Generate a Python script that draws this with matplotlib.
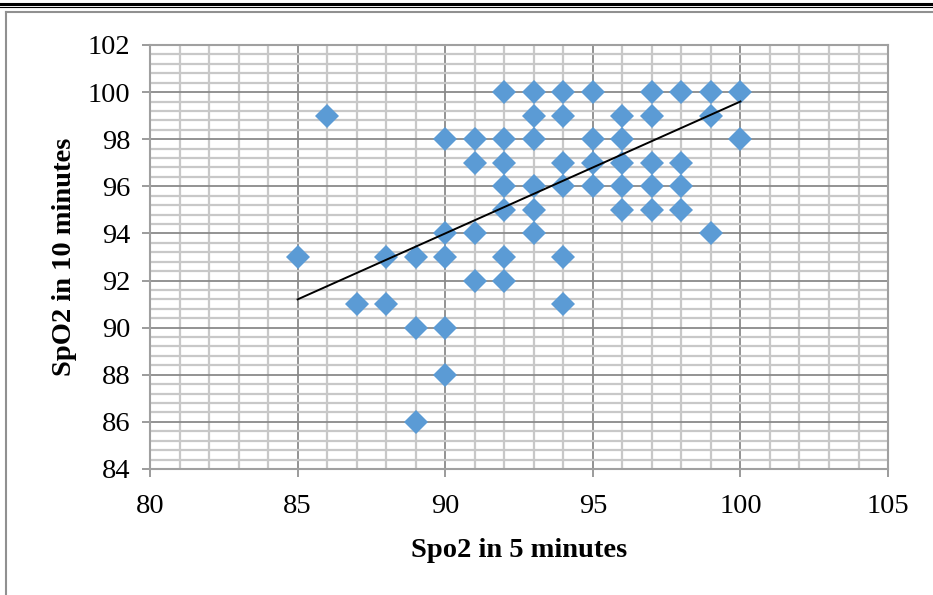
import numpy as np
import matplotlib
matplotlib.use("Agg")
import matplotlib.pyplot as plt
from matplotlib.ticker import MultipleLocator
from matplotlib.lines import Line2D

# SpO2 readings (x = 5 min, y = 10 min)
spo2_5min = [86, 85, 87, 88, 88, 89, 89, 89, 90, 90, 90, 90, 90,
             91, 91, 91, 91, 92, 92, 92, 92, 92, 92, 92,
             93, 93, 93, 93, 93, 93, 94, 94, 94, 94, 94, 94,
             95, 95, 95, 95, 96, 96, 96, 96, 96,
             97, 97, 97, 97, 97, 98, 98, 98, 98,
             99, 99, 99, 100, 100]
spo2_10min = [99, 93, 91, 91, 93, 93, 90, 86, 90, 88, 93, 94, 98,
              98, 97, 94, 92, 92, 93, 95, 96, 97, 98, 100,
              100, 99, 98, 96, 95, 94, 100, 99, 97, 96, 93, 91,
              100, 98, 97, 96, 99, 98, 97, 96, 95,
              100, 99, 97, 96, 95, 100, 97, 96, 95,
              100, 99, 94, 100, 98]

# Linear trendline as shown on the chart (overlapping points hide some weight)
trendSlope = 0.56
trendIntercept = 43.6

xTicks = [80, 85, 90, 95, 100, 105]
yTicks = list(range(84, 103, 2))

plt.rcParams["font.family"] = ["Liberation Serif", "DejaVu Serif"]

fig = plt.figure(figsize=(9.33, 5.95), dpi=100)
ax = fig.add_axes([0.1608, 0.2118, 0.791, 0.7126])

# 1) Gridlines, minor first then major
ax.xaxis.set_minor_locator(MultipleLocator(1))
ax.yaxis.set_minor_locator(MultipleLocator(0.4))
ax.grid(which="minor", color="#c8c8c8", linewidth=1.6)
ax.grid(which="major", color="#8a8a8a", linewidth=1.3)
ax.set_axisbelow(True)

# 2) Scatter points and the linear trend line
ax.plot(spo2_5min, spo2_10min, linestyle="none", marker="D", markersize=12.5,
        color="#5b9bd5", markeredgewidth=0, zorder=3)
xFit = np.array([min(spo2_5min), max(spo2_5min)])
ax.plot(xFit, trendSlope * xFit + trendIntercept, color="black", linewidth=1.4, zorder=4)

ax.set_xlim(80, 105)
ax.set_ylim(84, 102)
ax.set_xticks(xTicks)
ax.set_yticks(yTicks)
ax.tick_params(which="minor", length=0)
ax.tick_params(which="major", length=6, width=1.2, color="#8a8a8a",
               labelsize=20.5)
ax.tick_params(axis="x", pad=12)
ax.tick_params(axis="y", pad=8)
for spine in ax.spines.values():
    spine.set_color("#a0a0a0")
    spine.set_linewidth(1.5)

ax.set_xlabel("Spo2 in 5 minutes", fontsize=20.5, fontweight="bold", labelpad=14)
ax.set_ylabel("SpO2 in 10 minutes", fontsize=20.5, fontweight="bold", labelpad=8)

# 3) Page frame lines around the figure
fig.add_artist(Line2D([0, 1], [1 - 3.5 / 595] * 2, color="black", linewidth=2.2))
fig.add_artist(Line2D([0, 1], [1 - 6.5 / 595] * 2, color="black", linewidth=0.8))
fig.add_artist(Line2D([6 / 933, 1], [1 - 12 / 595] * 2, color="#909090", linewidth=1.5))
fig.add_artist(Line2D([6 / 933] * 2, [0, 1 - 12 / 595], color="#909090", linewidth=1.5))

fig.savefig("out.png", dpi=100)
